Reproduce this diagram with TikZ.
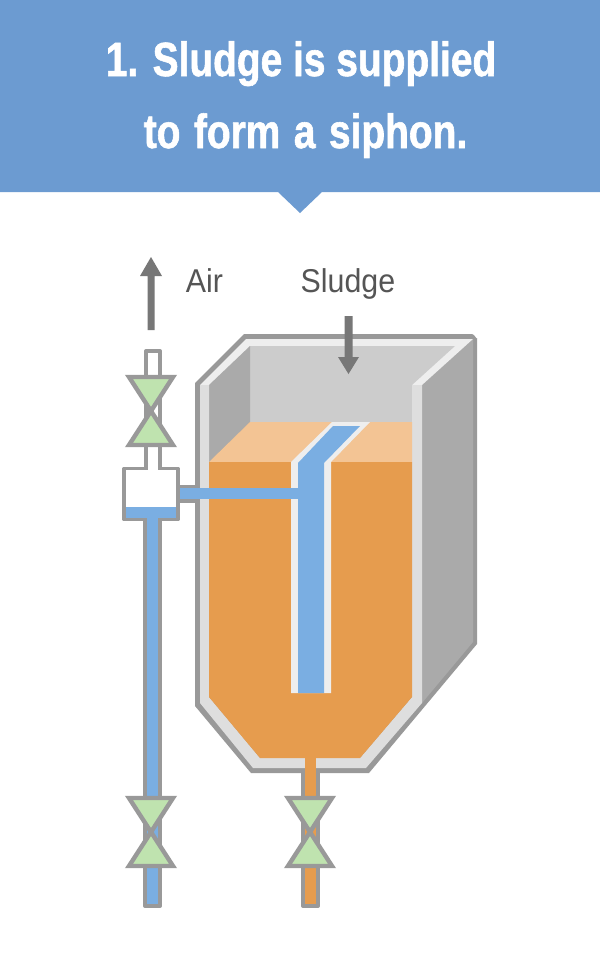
\documentclass[tikz,border=0pt]{standalone}
\usepackage{fontspec}
\newfontfamily\headfont[FakeStretch=0.81,FakeBold=1.2]{Liberation Sans Bold}
\newfontfamily\labelfont[FakeStretch=0.92]{Liberation Sans}
\definecolor{headblue}{HTML}{6C9BD1}
\definecolor{pipeblue}{HTML}{7AAEE2}
\definecolor{outline}{HTML}{999999}
\definecolor{arrowgray}{HTML}{777777}
\definecolor{textgray}{HTML}{555555}
\definecolor{wallfront}{HTML}{DEDEDE}
\definecolor{rim}{HTML}{EEEEEE}
\definecolor{backwall}{HTML}{CCCCCC}
\definecolor{sidewall}{HTML}{AAAAAA}
\definecolor{sludge}{HTML}{E69C4E}
\definecolor{sludgetop}{HTML}{F3C494}
\definecolor{valvegreen}{HTML}{BFE3AF}
\tikzset{
  x=1pt,y=-1pt,
  outlined/.style={draw=outline,line width=4pt,line join=round,line cap=round},
  valvetri/.style={draw=outline,fill=valvegreen,line width=4.4pt,line join=miter},
  headtext/.style={text=white,inner sep=0pt,font=\headfont\fontsize{48}{48}\selectfont,anchor=base},
  labeltext/.style={text=textgray,inner sep=0pt,font=\labelfont\fontsize{33}{33}\selectfont,anchor=base}
}
\newcommand{\valvepair}[3]{% cx, top, bottom
  \path[valvetri] (#1-22,#2) -- (#1+22,#2) -- (#1,{(#2+#3)/2}) -- cycle;
  \path[valvetri] (#1-22,#3) -- (#1+22,#3) -- (#1,{(#2+#3)/2}) -- cycle;
}
\begin{document}
\begin{tikzpicture}
\useasboundingbox (0,0) rectangle (600,970);
\fill[white] (0,0) rectangle (600,970);
% header
\fill[headblue] (0,0) -- (600,0) -- (600,192) -- (322,192) -- (300,213) -- (278,192) -- (0,192) -- cycle;
\node[headtext] (title1) at (301,76) {1. Sludge is supplied};
\node[headtext] (title2) at (305.5,148) {\spaceskip=1.25\fontdimen2\font to form a siphon.};
% labels
\node[labeltext] (air) at (204.5,292) {Air};
\node[labeltext] (sludgelabel) at (348,292) {Sludge};
% air arrow
\fill[arrowgray] (147.5,330) -- (147.5,276) -- (140,276) -- (151,257) -- (162,276) -- (154.5,276) -- (154.5,330) -- cycle;
% air pipes
\draw[outlined,fill=white] (146,467) -- (146,351) -- (160,351) -- (160,467);
\fill[white] (148,440) rectangle (158,470);
\draw[outlined] (178,487) -- (198,487) (178,501) -- (198,501);
\fill[white] (178,489) rectangle (198,499);
% sludge drain outer
\draw[outlined,fill=sludge] (303,760) -- (303,906) -- (318,906) -- (318,760);
% left blue pipe
\draw[outlined,fill=pipeblue] (145,519) -- (145,906) -- (160,906) -- (160,519);
% tank silhouette
\fill[outline] (195,383) -- (244,334) -- (472,334) to[out=0,in=-90] (477,338) -- (477,644) -- (369,773) -- (251,773) -- (195,706) -- cycle;
% side wall
\fill[sidewall] (422,385) -- (473,339) -- (473,642) -- (422,703) -- cycle;
% rim
\fill[rim] (200,385) -- (246,339) -- (473,339) -- (422,385) -- cycle;
% back wall
\fill[backwall] (250,346) -- (455,346) -- (412,385) -- (412,422) -- (250,422) -- cycle;
\fill[sidewall] (250,346) -- (250,422) -- (209,462) -- (209,385) -- cycle;
% front wall
\fill[wallfront] (200,385) -- (209,385) -- (209,697) -- (260,758) -- (360,758) -- (412,697) -- (412,385) -- (422,385) -- (422,703) -- (366,768) -- (253,768) -- (200,703) -- cycle;
% sludge
\fill[sludgetop] (250,422) -- (412,422) -- (412,462) -- (209,462) -- cycle;
\fill[sludge] (209,462) -- (412,462) -- (412,697) -- (360,758) -- (260,758) -- (209,697) -- cycle;
\fill[sludge] (305,756) rectangle (316,800);
% siphon tube
\fill[rim] (291,693) -- (291,462) -- (332,422) -- (370,422) -- (331,462) -- (331,693) -- cycle;
\fill[pipeblue] (298,693) -- (298,463) -- (333,426) -- (360,426) -- (324,463) -- (324,693) -- cycle;
% horizontal blue
\fill[pipeblue] (177,488) rectangle (299,499);
% sludge arrow
\fill[arrowgray] (344.5,316) -- (344.5,357) -- (338,357) -- (348.5,374) -- (359,357) -- (352.5,357) -- (352.5,316) -- cycle;
% box
\draw[outlined,line width=3.5pt,fill=white] (124,468.5) rectangle (178,519.5);
\fill[white] (148,462) rectangle (158,472);
\fill[pipeblue] (126,507) rectangle (176,518);
\fill[pipeblue] (147,516) rectangle (158,524);
% valves
\valvepair{151}{377}{445}
\valvepair{151}{798}{866}
\valvepair{310}{798}{866}
\end{tikzpicture}
\end{document}
